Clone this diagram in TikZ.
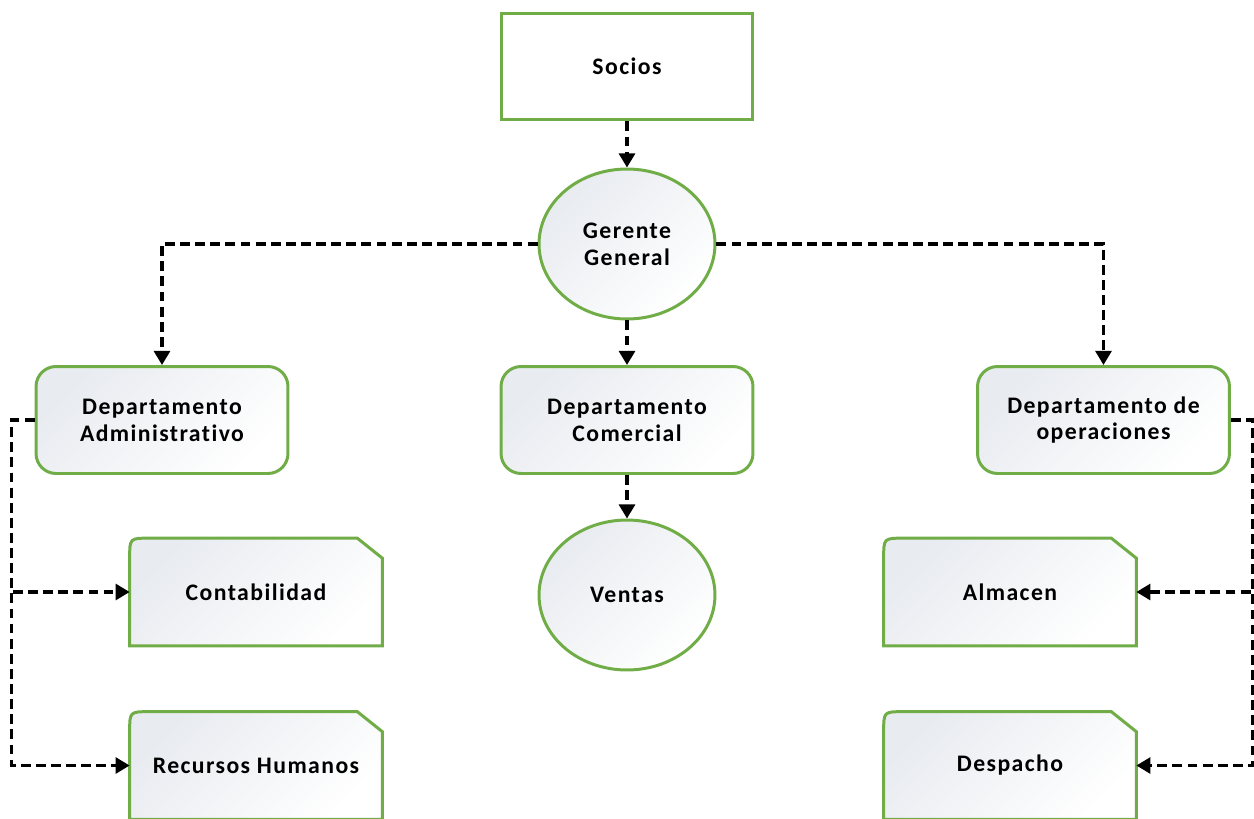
\documentclass[tikz,border=0pt]{standalone}
\usepackage{fontspec}
\setmainfont{Carlito}[LetterSpace=6,Ligatures=NoCommon]
\usetikzlibrary{shapes.geometric,arrows.meta,calc,backgrounds}
\definecolor{boxgreen}{RGB}{112,173,71}
\definecolor{gradgray}{RGB}{232,235,240}
\tikzset{
  boxtext/.style={font=\fontsize{13.5}{15.3}\selectfont\bfseries, align=center, text=black},
  gradfill/.style={top color=gradgray, bottom color=white, shading angle=45},
  plainbox/.style={rectangle, draw=boxgreen, line width=1.7pt, fill=white,
    minimum width=5.04cm, minimum height=2.14cm, boxtext},
  roundbox/.style={plainbox, rounded corners=0.4cm, gradfill},
  ovalbox/.style={ellipse, draw=boxgreen, line width=1.7pt, gradfill,
    minimum width=3.52cm, minimum height=3cm, boxtext},
  cardbox/.style={rectangle, minimum width=5.04cm, minimum height=2.14cm, boxtext},
  link/.style={draw=black, line width=1.9pt, dash pattern=on 5.6pt off 3pt,
    -{Triangle[length=8pt,width=9pt]}}
}
\newcommand{\cardline}[1]{%
  \path[draw=boxgreen, line width=1.7pt, gradfill]
    (#1.south west) -- ($(#1.north west)+(0,20)$)
    .. controls (#1.north west) .. ($(#1.north west)+(20,0)$)
    -- ($(#1.north east)+(-25,0)$) -- ($(#1.north east)+(0,20)$)
    -- (#1.south east) -- cycle;}
\begin{document}
\begin{tikzpicture}[x=0.02cm,y=-0.02cm]
  \useasboundingbox (0,0) rectangle (1254,818);

  \begin{scope}
    \node[plainbox] (socios) at (627,66.5) {Socios};
    \node[ovalbox] (gerente) at (627,244) {Gerente\\General};
    \node[roundbox] (admin) at (162,420) {Departamento\\Administrativo};
    \node[roundbox] (comercial) at (627,420) {Departamento\\Comercial};
    \node[roundbox] (operac) at (1103.5,420) {Departamento de\\operaciones};
    \node[ovalbox] (ventas) at (627,595) {Ventas};
    \node[cardbox] (conta) at (256,592) {Contabilidad};
    \node[cardbox] (rrhh) at (256,765.5) {Recursos Humanos};
    \node[cardbox] (almacen) at (1010,592) {Almacen};
    \node[cardbox] (despacho) at (1010,765.5) {Despacho};
  \end{scope}

  \begin{scope}[on background layer]
    \cardline{conta}
    \cardline{rrhh}
    \cardline{almacen}
    \cardline{despacho}
  \end{scope}

  \begin{scope}[every path/.style={link}]
    \path (socios) -- (gerente);
    \path (gerente.west) -| (admin.north);
    \path (gerente.east) -| (operac.north);
    \path (gerente) -- (comercial);
    \path (comercial) -- (ventas);
    \path (admin.west) -- ++(-23,0) |- (conta.west);
    \path (admin.west) -- ++(-23,0) |- (rrhh.west);
    \path (operac.east) -- ++(22,0) |- (almacen.east);
    \path (operac.east) -- ++(22,0) |- (despacho.east);
  \end{scope}
\end{tikzpicture}
\end{document}
